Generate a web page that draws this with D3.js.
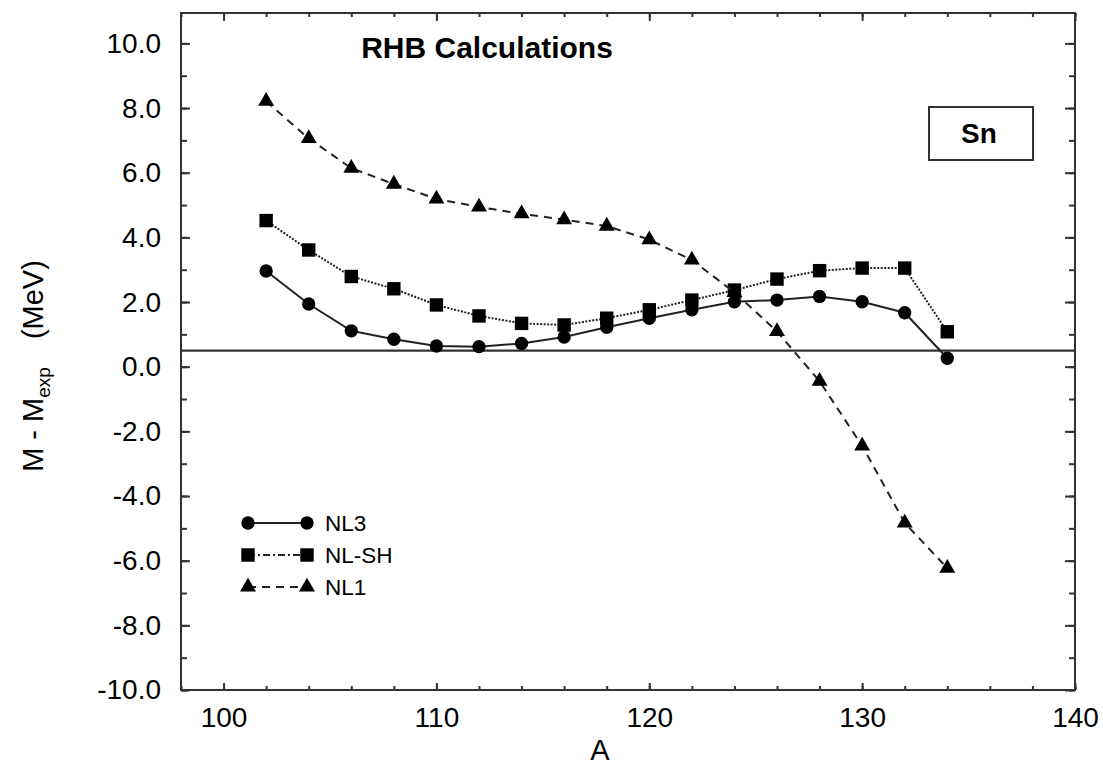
<!DOCTYPE html>
<html>
<head>
<meta charset="utf-8">
<script src="https://cdn.jsdelivr.net/npm/d3@7"></script>
<style>
  html, body { margin: 0; padding: 0; background: #fff; }
  svg { display: block; font-family: "Liberation Sans", Arial, sans-serif; }
</style>
</head>
<body>
<div id="chart"></div>
<script>
// Mass numbers of the Sn isotopes
const massNumbers = [102, 104, 106, 108, 110, 112, 114, 116, 118, 120, 122, 124, 126, 128, 130, 132, 134];

// M - Mexp (MeV) for each force
const nl3 = [2.96, 1.94, 1.11, 0.85, 0.64, 0.62, 0.72, 0.92, 1.22, 1.50, 1.76, 2.01, 2.06, 2.17, 2.01, 1.67, 0.26];
const nlsh = [4.52, 3.61, 2.79, 2.41, 1.91, 1.57, 1.34, 1.29, 1.50, 1.76, 2.06, 2.37, 2.71, 2.97, 3.05, 3.05, 1.08];
const nl1 = [8.21, 7.06, 6.14, 5.65, 5.19, 4.94, 4.73, 4.55, 4.35, 3.93, 3.30, 2.30, 1.09, -0.45, -2.45, -4.83, -6.23];

const seriesNames = ['NL3', 'NL-SH', 'NL1'];

// axis ticks
const xMajor = [100, 110, 120, 130, 140];
const xMinor = d3.range(98, 141, 2);
const yMajor = d3.range(-10, 10.1, 2);
const yMinor = d3.range(-10, 10.1, 1);
const refLine = 0.5;

const width = 1103;
const height = 768;
const margin = { top: 13, right: 28, bottom: 78, left: 181 };

const svg = d3.select('#chart').append('svg')
    .attr('width', width)
    .attr('height', height);

const x = d3.scaleLinear()
    .domain([98, 140])
    .range([margin.left, width - margin.right]);

const y = d3.scaleLinear()
    .domain([-10, 10.94])
    .range([height - margin.bottom, margin.top]);

const ink = '#222';
// plain hyphen for negatives, like the original
const fmt = d => d3.format('.1f')(d).replace('\u2212', '-');

// frame
svg.append('rect')
    .attr('x', x(98)).attr('y', y(10.94))
    .attr('width', x(140) - x(98))
    .attr('height', y(-10) - y(10.94))
    .attr('fill', 'none')
    .attr('stroke', '#333')
    .attr('stroke-width', 2);

function styleAxis(g) {
    g.select('.domain').remove();
    g.selectAll('line').attr('stroke', '#333').attr('stroke-width', 2);
    g.selectAll('text').attr('fill', '#000').attr('font-size', 28);
}

// bottom axis
svg.append('g')
    .attr('transform', `translate(0,${y(-10)})`)
    .call(d3.axisBottom(x).tickValues(xMinor).tickSize(-4).tickFormat(''))
    .call(styleAxis);
svg.append('g')
    .attr('transform', `translate(0,${y(-10)})`)
    .call(d3.axisBottom(x).tickValues(xMajor).tickSize(-7).tickPadding(17).tickFormat(d3.format('d')))
    .call(styleAxis);

// top axis
svg.append('g')
    .attr('transform', `translate(0,${y(10.94)})`)
    .call(d3.axisTop(x).tickValues(xMinor).tickSize(-4).tickFormat(''))
    .call(styleAxis);
svg.append('g')
    .attr('transform', `translate(0,${y(10.94)})`)
    .call(d3.axisTop(x).tickValues(xMajor).tickSize(-8).tickFormat(''))
    .call(styleAxis);

// left axis
svg.append('g')
    .attr('transform', `translate(${x(98)},0)`)
    .call(d3.axisLeft(y).tickValues(yMinor).tickSize(-6).tickFormat(''))
    .call(styleAxis);
svg.append('g')
    .attr('transform', `translate(${x(98)},0)`)
    .call(d3.axisLeft(y).tickValues(yMajor).tickSize(-9).tickPadding(20).tickFormat(fmt))
    .call(styleAxis);

// right axis
svg.append('g')
    .attr('transform', `translate(${x(140)},0)`)
    .call(d3.axisRight(y).tickValues(yMinor).tickSize(-6).tickFormat(''))
    .call(styleAxis);
svg.append('g')
    .attr('transform', `translate(${x(140)},0)`)
    .call(d3.axisRight(y).tickValues(yMajor).tickSize(-10).tickFormat(''))
    .call(styleAxis);

// reference line
svg.append('line')
    .attr('x1', x(98)).attr('x2', x(140))
    .attr('y1', y(refLine)).attr('y2', y(refLine))
    .attr('stroke', '#333')
    .attr('stroke-width', 2.2);

// series
const styles = [
    { values: nl3, dash: null, width: 2, symbol: d3.symbolCircle, size: 140 },
    { values: nlsh, dash: '2,1.5', width: 2, symbol: d3.symbolSquare, size: 180 },
    { values: nl1, dash: '8,6', width: 2, symbol: d3.symbolTriangle, size: 110 }
];

const line = d3.line()
    .x((d, i) => x(massNumbers[i]))
    .y(d => y(d));

styles.forEach(s => {
    svg.append('path')
        .datum(s.values)
        .attr('d', line)
        .attr('fill', 'none')
        .attr('stroke', ink)
        .attr('stroke-width', s.width)
        .attr('stroke-dasharray', s.dash);
    svg.append('g').selectAll('path')
        .data(s.values)
        .enter().append('path')
        .attr('transform', (d, i) => `translate(${x(massNumbers[i])},${y(d)})`)
        .attr('d', d3.symbol().type(s.symbol).size(s.size))
        .attr('fill', '#000');
});

// legend
const legend = svg.append('g').attr('transform', 'translate(248,523)');
styles.forEach((s, i) => {
    const row = legend.append('g').attr('transform', `translate(0,${i * 32})`);
    row.append('line')
        .attr('x1', 0).attr('x2', 59)
        .attr('stroke', ink)
        .attr('stroke-width', s.width)
        .attr('stroke-dasharray', s.dash ? (i === 1 ? '7,3,2,3' : '8,6') : null);
    [0, 59].forEach(px => {
        row.append('path')
            .attr('transform', `translate(${px},0)`)
            .attr('d', d3.symbol().type(s.symbol).size(s.size))
            .attr('fill', '#000');
    });
    row.append('text')
        .attr('x', 77).attr('y', 8)
        .attr('font-size', 22.5)
        .attr('fill', '#000')
        .text(seriesNames[i]);
});

// title
svg.append('text')
    .attr('x', 487).attr('y', 58)
    .attr('text-anchor', 'middle')
    .attr('font-size', 30)
    .attr('font-weight', 'bold')
    .attr('fill', '#000')
    .text('RHB Calculations');

// element box
svg.append('rect')
    .attr('x', 929).attr('y', 107)
    .attr('width', 104).attr('height', 53)
    .attr('fill', '#fff')
    .attr('stroke', '#333')
    .attr('stroke-width', 2);
svg.append('text')
    .attr('x', 979).attr('y', 143)
    .attr('text-anchor', 'middle')
    .attr('font-size', 28)
    .attr('font-weight', 'bold')
    .attr('fill', '#000')
    .text('Sn');

// axis titles
svg.append('text')
    .attr('x', 600).attr('y', 760)
    .attr('text-anchor', 'middle')
    .attr('font-size', 29)
    .attr('fill', '#000')
    .text('A');

const yTitle = svg.append('text')
    .attr('transform', 'translate(43,366) rotate(-90)')
    .attr('text-anchor', 'middle')
    .attr('font-size', 29)
    .attr('fill', '#000');
yTitle.append('tspan').text('M - M');
yTitle.append('tspan').attr('font-size', 19).attr('dy', 7).text('exp');
yTitle.append('tspan').attr('dx', 28).attr('dy', -7).text('(MeV)');
</script>
</body>
</html>
